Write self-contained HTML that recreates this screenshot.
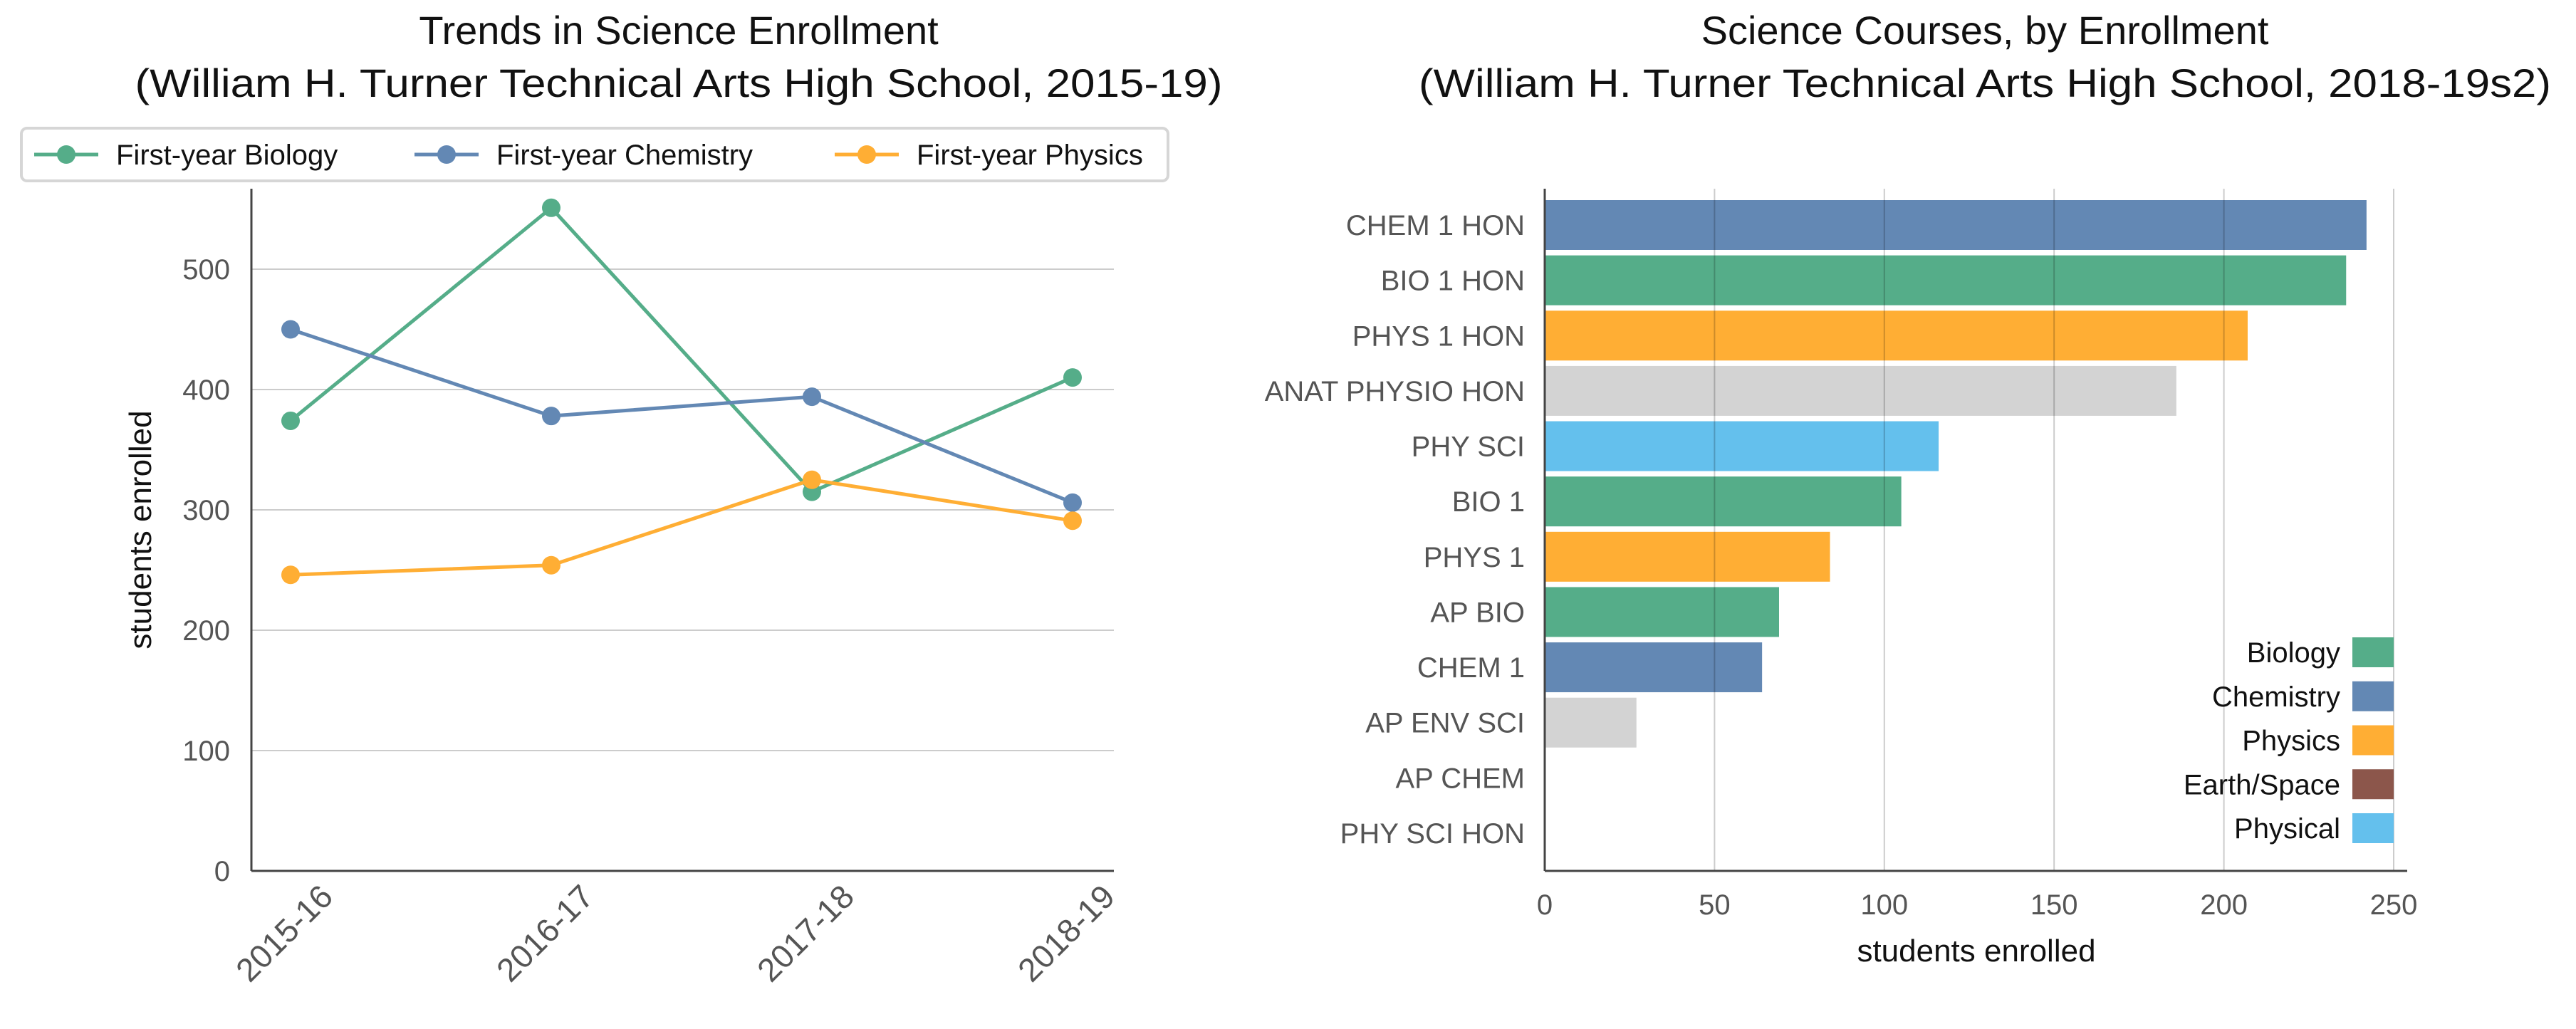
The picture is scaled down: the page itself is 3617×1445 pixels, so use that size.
<!DOCTYPE html>
<html><head><meta charset="utf-8"><style>
html,body{margin:0;padding:0;background:#fff;}
svg{display:block;font-family:"Liberation Sans",sans-serif;}
</style></head><body>
<svg id="chart" width="3617" height="1445" viewBox="0 0 3617 1445" xmlns="http://www.w3.org/2000/svg">
<g id="left"></g>
<g id="right"></g>
</svg>
<script>
const years = ["2015-16","2016-17","2017-18","2018-19"];
const bioVals = [374, 551, 315, 410];
const chemVals = [450, 378, 394, 306];
const physVals = [246, 254, 325, 291];
const yTicks = [0,100,200,300,400,500];
const courses = ["CHEM 1 HON","BIO 1 HON","PHYS 1 HON","ANAT PHYSIO HON","PHY SCI","BIO 1","PHYS 1","AP BIO","CHEM 1","AP ENV SCI","AP CHEM","PHY SCI HON"];
const courseVals = [242, 236, 207, 186, 116, 105, 84, 69, 64, 27, 0, 0];
const courseCats = ["chem","bio","phys","other","physical","bio","phys","bio","chem","other","chem","physical"];
const xTicks = [0,50,100,150,200,250];
const legendLabels = ["Biology","Chemistry","Physics","Earth/Space","Physical"];
const legendKeys = ["bio","chem","phys","earth","physical"];

const colors = {bio:"#55ad89", chem:"#6388b4", phys:"#ffae34", other:"#d3d3d3", earth:"#8c564b", physical:"#64c0ed"};
const NS = "http://www.w3.org/2000/svg";
function mk(parent, tag, attrs, text){
  const e = document.createElementNS(NS, tag);
  for (const k in attrs) e.setAttribute(k, attrs[k]);
  if (text !== undefined) e.textContent = text;
  parent.appendChild(e);
  return e;
}
const L = document.getElementById('left');
const R = document.getElementById('right');

// ---------- left chart ----------
const lx0 = 353, lx1 = 1564, ly0 = 1223, ly1 = 265;
const xPos = i => 408 + i * (1506 - 408) / (years.length - 1);
const yPos = v => ly0 - v * (ly0 - 378) / 500;

let t;
t = mk(L, 'text', {x: 953, y: 62, 'text-anchor': 'middle', 'font-size': 56, fill: '#111'}, 'Trends in Science Enrollment');


t = mk(L, 'text', {x: 953, y: 136, 'text-anchor': 'middle', 'font-size': 56, fill: '#111', textLength: 1527, lengthAdjust: 'spacingAndGlyphs'}, '(William H. Turner Technical Arts High School, 2015-19)');



yTicks.forEach(v => {
  const y = yPos(v);
  if (v > 0) {
    const g = mk(L, 'line', {x1: lx0, x2: lx1, y1: y, y2: y, stroke: '#cccccc', 'stroke-width': 2});
    
    
  }
  const tl = mk(L, 'text', {x: lx0 - 30, y: y + 14, 'text-anchor': 'end', 'font-size': 40, fill: '#555'}, String(v));
  
  
});
let ax = mk(L, 'line', {x1: lx0, x2: lx0, y1: ly1, y2: ly0, stroke: '#444', 'stroke-width': 3});


ax = mk(L, 'line', {x1: lx0, x2: lx1, y1: ly0, y2: ly0, stroke: '#444', 'stroke-width': 3});



years.forEach((yr, i) => {
  const x = xPos(i) + 62;
  const tl = mk(L, 'text', {x: x, y: 1262, 'text-anchor': 'end', 'font-size': 46, fill: '#555', transform: `rotate(-45 ${x} 1262)`}, yr);
  
  
});
t = mk(L, 'text', {x: 0, y: 0, 'text-anchor': 'middle', 'font-size': 44, fill: '#111', transform: 'translate(212 744) rotate(-90)'}, 'students enrolled');



const series = [[bioVals, colors.bio, 'biology'], [chemVals, colors.chem, 'chemistry'], [physVals, colors.phys, 'physics']];
series.forEach(([vals, c, nm]) => {
  const pts = vals.map((v, i) => `${xPos(i)},${yPos(v)}`).join(' ');
  const pl = mk(L, 'polyline', {points: pts, fill: 'none', stroke: c, 'stroke-width': 5});
  
  
  vals.forEach((v, i) => {
    const p = mk(L, 'circle', {cx: xPos(i), cy: yPos(v), r: 13, fill: c});
    
    
  });
});

// legend
const lg = mk(L, 'g', {});


mk(lg, 'rect', {x: 30, y: 180, width: 1610, height: 74, rx: 8, fill: '#fff', stroke: '#d6d6d6', 'stroke-width': 4});
const legItems = [["First-year Biology", colors.bio, 48], ["First-year Chemistry", colors.chem, 582], ["First-year Physics", colors.phys, 1172]];
legItems.forEach(([lab, c, x]) => {
  const g = mk(lg, 'g', {});
  
  
  mk(g, 'line', {x1: x, x2: x + 90, y1: 217, y2: 217, stroke: c, 'stroke-width': 5});
  mk(g, 'circle', {cx: x + 45, cy: 217, r: 13, fill: c});
  mk(g, 'text', {x: x + 115, y: 231, 'font-size': 40, fill: '#111'}, lab);
});

// ---------- right chart ----------
const rx0 = 2169, rx1 = 3380, ry0 = 1223, ry1 = 265;
const xScale = v => rx0 + v * (3361 - rx0) / 250;
const barY = i => 316 + i * (1170 - 316) / (courses.length - 1);
const barH = 70;

t = mk(R, 'text', {x: 2787, y: 62, 'text-anchor': 'middle', 'font-size': 56, fill: '#111'}, 'Science Courses, by Enrollment');


t = mk(R, 'text', {x: 2787, y: 136, 'text-anchor': 'middle', 'font-size': 56, fill: '#111', textLength: 1590, lengthAdjust: 'spacingAndGlyphs'}, '(William H. Turner Technical Arts High School, 2018-19s2)');



courses.forEach((c, i) => {
  const y = barY(i);
  const v = courseVals[i];
  const b = mk(R, 'rect', {x: rx0, y: y - barH / 2, width: xScale(v) - rx0, height: barH, fill: colors[courseCats[i]]});
  
  
  const tl = mk(R, 'text', {x: rx0 - 28, y: y + 14, 'text-anchor': 'end', 'font-size': 40, fill: '#555'}, c);
  
  
});
xTicks.forEach(v => {
  const x = xScale(v);
  if (v > 0) {
    const g = mk(R, 'line', {x1: x, x2: x, y1: ry1, y2: ry0, stroke: '#000', 'stroke-opacity': 0.2, 'stroke-width': 2});
    
    
  }
  const tl = mk(R, 'text', {x: x, y: 1284, 'text-anchor': 'middle', 'font-size': 40, fill: '#555'}, String(v));
  
  
});
ax = mk(R, 'line', {x1: rx0, x2: rx0, y1: ry1, y2: ry0, stroke: '#444', 'stroke-width': 3});


ax = mk(R, 'line', {x1: rx0, x2: rx1, y1: ry0, y2: ry0, stroke: '#444', 'stroke-width': 3});


t = mk(R, 'text', {x: 2775, y: 1350, 'text-anchor': 'middle', 'font-size': 44, fill: '#111'}, 'students enrolled');



const rl = mk(R, 'g', {});


legendLabels.forEach((lab, i) => {
  const y = 916 + i * 61.75;
  const g = mk(rl, 'g', {});
  
  
  mk(g, 'rect', {x: 3303, y: y - 21, width: 58, height: 42, fill: colors[legendKeys[i]]});
  mk(g, 'text', {x: 3286, y: y + 14, 'text-anchor': 'end', 'font-size': 40, fill: '#111'}, lab);
});
</script>
</body></html>
